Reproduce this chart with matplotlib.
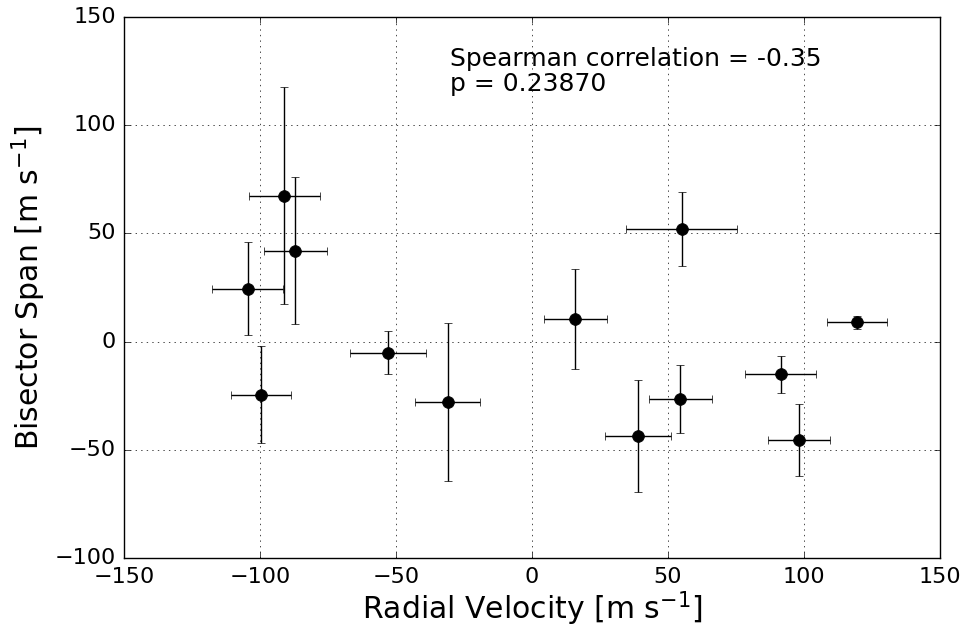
import matplotlib
matplotlib.use('Agg')
import matplotlib.pyplot as plt
import numpy as np

plt.style.use('classic')
plt.rcParams['mathtext.default'] = 'regular'

rv = [-104.5, -91, -87, -99.5, -53, -31, 16, 55, 39, 54.5, 91.5, 98, 119.5]
rv_err = [13, 13, 11.5, 11, 14, 12, 11.6, 20.5, 12, 11.6, 13, 11.4, 11]
bis = [24.5, 67.5, 42, -24.5, -5, -28, 10.5, 52, -43.5, -26.5, -15, -45.5, 9]
bis_err = [21.5, 50, 34, 22.5, 10, 36.5, 23, 17, 26, 15.7, 8.5, 16.5, 3]

fig = plt.figure(figsize=(9.69, 6.3), dpi=100, facecolor='white')
ax = fig.add_axes([0.128, 0.114, 0.842, 0.859])

ax.errorbar(rv, bis, xerr=rv_err, yerr=bis_err, fmt='o', color='k',
            ecolor='k', elinewidth=1, capsize=3, markersize=8.5, mec='k')

ax.set_xlim(-150, 150)
ax.set_ylim(-100, 150)
ax.grid(True, linestyle=':', color='k')
ax.tick_params(labelsize=16, pad=6)
ax.set_xlabel('Radial Velocity [m s$^{-1}$]', fontsize=21.5, labelpad=2)
ax.set_ylabel('Bisector Span [m s$^{-1}$]', fontsize=21.5)
ax.text(-30, 136, 'Spearman correlation = -0.35\np = 0.23870', fontsize=18,
        va='top', linespacing=1.05)

plt.savefig('out.png', dpi=100, facecolor='white')
